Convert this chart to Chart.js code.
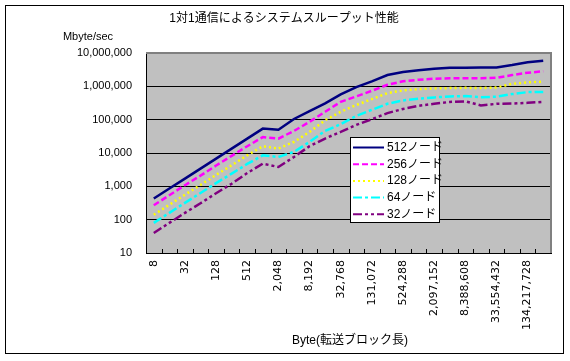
<!DOCTYPE html>
<html>
<head>
<meta charset="utf-8">
<script src="https://cdn.jsdelivr.net/npm/chart.js@4.4.0/dist/chart.umd.min.js"></script>
<style>
  html, body { margin: 0; padding: 0; background: #fff; }
</style>
</head>
<body>
<canvas id="myChart" width="570" height="361"></canvas>
<script>
// block sizes (Byte) - x categories
const blockSizes = [8, 16, 32, 64, 128, 256, 512, 1024, 2048, 4096, 8192, 16384, 32768,
    65536, 131072, 262144, 524288, 1048576, 2097152, 4194304, 8388608, 16777216,
    33554432, 67108864, 134217728, 268435456];

// throughput (Mbyte/sec)
const node512 = [430, 860, 1700, 3400, 6800, 13500, 27000, 54000, 50000, 105000, 180000, 307000,
    573000, 950000, 1410000, 2180000, 2680000, 3020000, 3380000, 3610000, 3600000, 3650000,
    3700000, 4350000, 5250000, 5870000];
const node256 = [270, 540, 1080, 2100, 4200, 8200, 16000, 30000, 27000, 46000, 86000, 172000,
    343000, 500000, 735000, 1115000, 1410000, 1575000, 1690000, 1750000, 1750000, 1750000,
    1800000, 2180000, 2560000, 2820000];
const node128 = [140, 280, 560, 1100, 2200, 4300, 8500, 16000, 13600, 21500, 43000, 96600,
    172000, 275000, 414000, 627000, 755000, 826000, 867000, 885000, 900000, 890000,
    920000, 1190000, 1315000, 1370000];
const node64 = [80, 160, 320, 630, 1250, 2400, 4700, 8500, 7600, 10800, 21500, 46000,
    73000, 130000, 197000, 299000, 378000, 423000, 466000, 499000, 510000, 470000,
    490000, 585000, 671000, 671000];
const node32 = [40, 80, 160, 310, 620, 1200, 2500, 4800, 3800, 7600, 16000, 27200,
    43000, 70000, 103000, 157000, 210000, 260000, 300000, 340000, 355000, 268000,
    299000, 305000, 320000, 343000];

const seriesLabels = ['512ノード', '256ノード', '128ノード', '64ノード', '32ノード'];
const yTicks = [10, 100, 1000, 10000, 100000, 1000000, 10000000];

const chartTitle = '1対1通信によるシステムスループット性能';
const yTitle = 'Mbyte/sec';
const xTitle = 'Byte(転送ブロック長)';

const fmt = v => Number(v).toLocaleString('en-US');

// background, frame, inner tick marks, titles and legend box
const decor = {
    id: 'decor',
    beforeDraw(chart) {
        const { ctx, chartArea: a } = chart;
        ctx.save();
        ctx.fillStyle = '#fff';
        ctx.fillRect(0, 0, chart.width, chart.height);
        ctx.strokeStyle = '#000';
        ctx.lineWidth = 1;
        ctx.strokeRect(5.5, 5.5, 558, 348);
        ctx.fillStyle = '#c0c0c0';
        ctx.fillRect(a.left, a.top, a.right - a.left, a.bottom - a.top);
        ctx.restore();
    },
    afterDraw(chart) {
        const { ctx, chartArea: a } = chart;
        const xs = chart.scales.x;
        ctx.save();
        // gray top / right frame
        ctx.strokeStyle = '#808080';
        ctx.lineWidth = 2;
        ctx.beginPath();
        ctx.moveTo(a.left, a.top);
        ctx.lineTo(a.right, a.top);
        ctx.lineTo(a.right, a.bottom);
        ctx.stroke();

        // x tick marks between categories, pointing inward
        const w = xs.getPixelForValue(1) - xs.getPixelForValue(0);
        ctx.strokeStyle = '#000';
        ctx.lineWidth = 1;
        ctx.beginPath();
        for (let i = 1; i < blockSizes.length; i++) {
            const x = Math.round(xs.getPixelForValue(i) - w / 2) + 0.5;
            ctx.moveTo(x, a.bottom);
            ctx.lineTo(x, a.bottom - 4);
        }
        ctx.stroke();

        // texts
        ctx.fillStyle = '#000';
        ctx.textBaseline = 'middle';
        ctx.textAlign = 'center';
        ctx.font = '12px "Liberation Sans", "Noto Sans CJK JP"';
        ctx.fillText(chartTitle, 284, 19);
        ctx.font = '11px "Liberation Sans", "Noto Sans CJK JP"';
        ctx.fillText(yTitle, 88, 37);
        ctx.font = '12px "Liberation Sans", "Noto Sans CJK JP"';
        ctx.fillText(xTitle, 350, 341);

        // legend
        ctx.fillStyle = '#fff';
        ctx.fillRect(350.5, 137.5, 89, 85);
        ctx.strokeStyle = '#000';
        ctx.strokeRect(350.5, 137.5, 89, 85);
        ctx.textAlign = 'left';
        ctx.font = '12px "Liberation Sans", "Noto Sans CJK JP"';
        chart.data.datasets.forEach((ds, i) => {
            const y = 147.5 + i * 16.7;
            ctx.beginPath();
            ctx.setLineDash(ds.borderDash || []);
            ctx.strokeStyle = ds.borderColor;
            ctx.lineWidth = 2;
            ctx.moveTo(353, y);
            ctx.lineTo(384, y);
            ctx.stroke();
            ctx.setLineDash([]);
            ctx.fillStyle = '#000';
            ctx.fillText(ds.label, 387, y);
        });
        ctx.restore();
    }
};

const data = {
    labels: blockSizes,
    datasets: [
        { label: seriesLabels[0], data: node512, borderColor: '#000080', borderWidth: 2.5, borderDash: [] },
        { label: seriesLabels[1], data: node256, borderColor: '#ff00ff', borderWidth: 2.5, borderDash: [6, 3] },
        { label: seriesLabels[2], data: node128, borderColor: '#ffff00', borderWidth: 2.5, borderDash: [2, 3] },
        { label: seriesLabels[3], data: node64, borderColor: '#00ffff', borderWidth: 2.5, borderDash: [9, 3, 3, 3] },
        { label: seriesLabels[4], data: node32, borderColor: '#800080', borderWidth: 2.5, borderDash: [9, 3, 3, 3, 3, 3] },
    ]
};

const config = {
    type: 'line',
    data,
    options: {
        responsive: false,
        animation: false,
        events: [],
        layout: { padding: { top: 53, right: 19, bottom: 0, left: 0 } },
        elements: {
            point: { radius: 0 },
            line: { tension: 0, fill: false }
        },
        scales: {
            x: {
                type: 'category',
                offset: true,
                grid: { display: false, drawTicks: false },
                border: { display: true, color: '#000', width: 1 },
                ticks: {
                    autoSkip: false,
                    minRotation: 90,
                    maxRotation: 90,
                    padding: 7,
                    color: '#000',
                    font: { family: '"DejaVu Sans"', size: 11 },
                    callback(val, idx) {
                        return idx % 2 === 0 ? fmt(blockSizes[idx]) : '';
                    }
                },
                afterFit(scale) { scale.height = 108; }
            },
            y: {
                type: 'logarithmic',
                min: 10,
                max: 10000000,
                afterBuildTicks(scale) {
                    scale.ticks = yTicks.map(v => ({ value: v }));
                },
                grid: {
                    drawTicks: false,
                    color: ctx => (ctx.tick && ctx.tick.value === 10000000) ? 'rgba(0,0,0,0)' : '#000',
                    lineWidth: 1
                },
                border: { display: true, color: '#000', width: 1 },
                ticks: {
                    padding: 14,
                    color: '#000',
                    font: { family: '"Liberation Sans"', size: 11 },
                    callback: v => fmt(v)
                },
                afterFit(scale) { scale.width = 146; }
            }
        },
        plugins: {
            legend: { display: false },
            tooltip: { enabled: false },
            title: { display: false }
        }
    },
    plugins: [decor]
};

const myChart = new Chart(document.getElementById('myChart'), config);
</script>
</body>
</html>
